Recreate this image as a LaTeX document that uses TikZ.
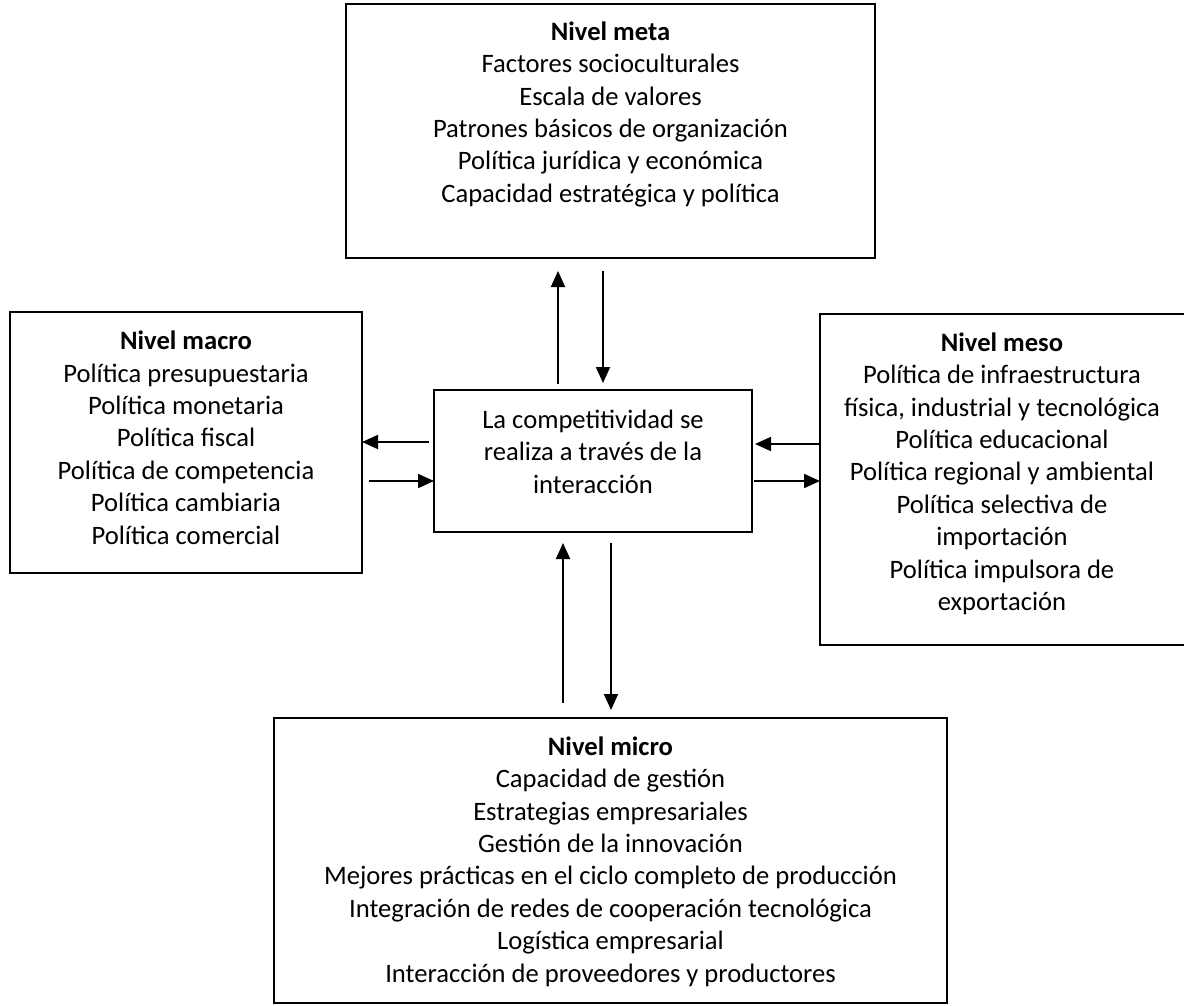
\documentclass[tikz,border=0pt]{standalone}
\usepackage{fontspec}
\setmainfont{Carlito}
\usetikzlibrary{arrows.meta}
\begin{document}
\begin{tikzpicture}[x=1pt,y=-1pt,
  box/.style={draw=black,line width=1.9pt,inner sep=0pt,outer sep=0pt,anchor=north west},
  txt/.style={align=center,inner sep=0pt,anchor=north,font=\fontsize{26.6}{32.4}\selectfont},
  arr/.style={line width=1.9pt,-{Triangle[length=16pt,width=14pt]}}]
\useasboundingbox (0,0) rectangle (1184,1005);
% boxes
\node[box,minimum width=529pt,minimum height=254pt] (meta) at (346,4) {};
\node[box,minimum width=352pt,minimum height=261pt] (macro) at (10,312) {};
\node[box,minimum width=318pt,minimum height=142pt] (center) at (434,390) {};
\node[box,minimum width=368pt,minimum height=331pt] (meso) at (820,314) {};
\node[box,minimum width=673pt,minimum height=285pt] (micro) at (274,718) {};
% texts
\node[txt] (metaT) at (610.5,18) {\rule{0pt}{22pt}\textbf{Nivel meta}\\
Factores socioculturales\\ Escala de valores\\ Patrones básicos de organización\\
Política jurídica y económica\\ Capacidad estratégica y política};
\node[txt] (macroT) at (186,327.5) {\rule{0pt}{22pt}\textbf{Nivel macro}\\
Política presupuestaria\\ Política monetaria\\ Política fiscal\\
Política de competencia\\ Política cambiaria\\ Política comercial};
\node[txt] (centerT) at (593,406) {\rule{0pt}{22pt}La competitividad se\\
realiza a través de la\\ interacción};
\node[txt] (mesoT) at (1002,329) {\rule{0pt}{22pt}\textbf{Nivel meso}\\
Política de infraestructura\\ física, industrial y tecnológica\\ Política educacional\\
Política regional y ambiental\\ Política selectiva de\\ importación\\
Política impulsora de\\ exportación};
\node[txt] (microT) at (610.5,733) {\rule{0pt}{22pt}\textbf{Nivel micro}\\
Capacidad de gestión\\ Estrategias empresariales\\ Gestión de la innovación\\
Mejores prácticas en el ciclo completo de producción\\
Integración de redes de cooperación tecnológica\\ Logística empresarial\\
Interacción de proveedores y productores};
% arrow guide coordinates
\coordinate (xa) at (558,0);
\coordinate (xb) at (603,0);
\coordinate (xc) at (563,0);
\coordinate (xd) at (611,0);
\coordinate (ya) at (0,442);
\coordinate (yb) at (0,481);
\coordinate (yc) at (0,444);
% connectors
\draw[arr,shorten <=6pt,shorten >=13pt] (center.north -| xa) -- (meta.south -| xa);
\draw[arr,shorten <=13pt,shorten >=7pt] (meta.south -| xb) -- (center.north -| xb);
\draw[arr,shorten <=5pt] (center.west |- ya) -- (macro.east |- ya);
\draw[arr,shorten <=7pt] (macro.east |- yb) -- (center.west |- yb);
\draw[arr,shorten >=3pt] (meso.west |- yc) -- (center.east |- yc);
\draw[arr,shorten <=2pt] (center.east |- yb) -- (meso.west |- yb);
\draw[arr,shorten <=15pt,shorten >=11pt] (micro.north -| xc) -- (center.south -| xc);
\draw[arr,shorten <=11pt,shorten >=8pt] (center.south -| xd) -- (micro.north -| xd);
\end{tikzpicture}
\end{document}
